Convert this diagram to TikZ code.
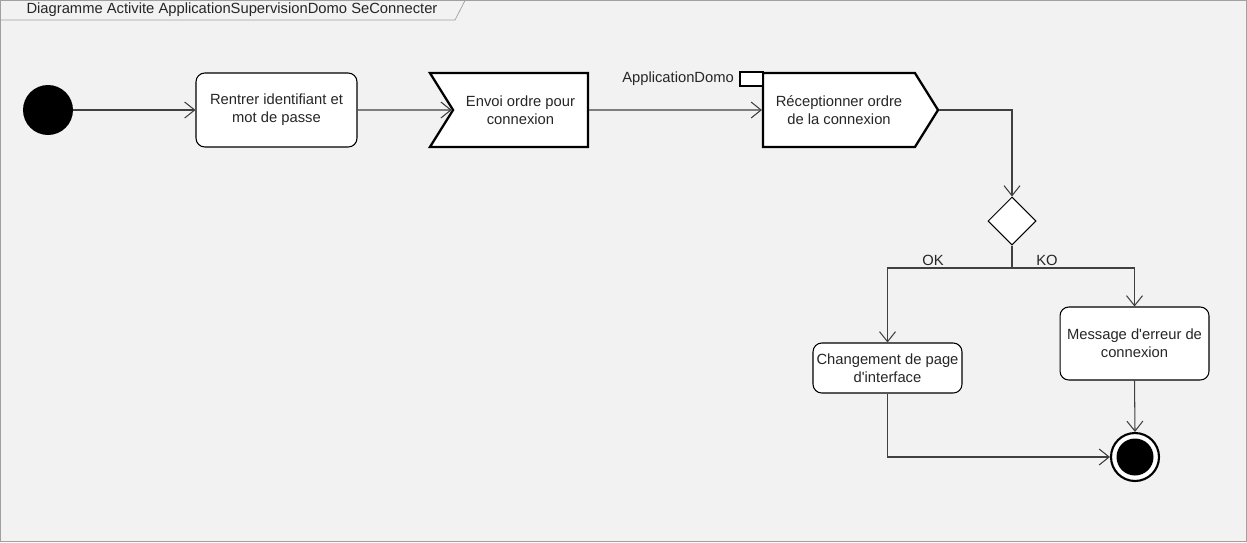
\documentclass[tikz,border=0pt]{standalone}
\usepackage{fontspec}
\setmainfont{Liberation Sans}
\usetikzlibrary{positioning,shapes.geometric,shapes.symbols,arrows.meta}
\definecolor{fondgris}{HTML}{F2F2F2}
\definecolor{cadre}{HTML}{A0A0A0}
\definecolor{trait}{HTML}{404040}

\begin{document}
\begin{tikzpicture}[x=0.02cm,y=-0.02cm,
  every node/.style={font=\fontsize{8.4}{10.2}\selectfont, align=center, inner sep=1pt, text=black!85},
  action/.style={draw=black, rounded corners=5pt, fill=white, line width=0.6pt},
  signalbox/.style={signal, draw=black, fill=white, line width=1.3pt,
    signal pointer angle=116, minimum height=1.48cm},
  flow/.style={draw=trait, line width=0.6pt, -{Straight Barb[length=2mm,width=3.2mm]}},
  plain/.style={draw=trait, line width=0.6pt}]
	%% cadre du diagramme
	\fill[fondgris] (0,0) rectangle (1247,542);
	\useasboundingbox (0,0) rectangle (1247,542);
	\draw[cadre] (0.5,0.5) rectangle (1246.5,541.5);
	\draw[cadre] (0.5,20) -- (455,20) -- (465,0.5);
	\node (titre) at (232,10) {Diagramme Activite ApplicationSupervisionDomo SeConnecter};

	%% noeuds
	\node[circle, fill=black, minimum size=1cm, inner sep=0] (debut) at (48,110) {};
	\node[action, minimum width=3.22cm, minimum height=1.48cm] (saisie) at (276.5,110) {Rentrer identifiant et\\mot de passe};
	\node[signalbox, signal from=west, signal to=nowhere, minimum width=3.16cm] (envoi) at (520.5,110) {Envoi ordre pour\\connexion};
	\node[signalbox, signal to=east, signal from=nowhere, minimum width=3.5cm] (recep) at (839,110) {Réceptionner ordre\\de la connexion};
	\node[draw=black, fill=white, line width=0.6pt, minimum width=0.46cm, minimum height=0.28cm, inner sep=0] (pin) at (751.5,79) {};
	\node[left=2pt of pin] (pinlabel) {ApplicationDomo};
	\node[diamond, draw=black, fill=white, line width=0.6pt, minimum size=0.96cm, inner sep=0] (choix) at (1012,221) {};
	\coordinate (branche) at (1012,268);
	\node (ok) at (933,260) {OK};
	\node (ko) at (1047,260) {KO};
	\node[action, minimum width=2.98cm, minimum height=1cm] (change) at (887.5,368) {Changement de page\\d\textquotesingle interface};
	\node[action, minimum width=2.98cm, minimum height=1.46cm] (erreur) at (1134.5,343.5) {Message d\textquotesingle erreur de\\connexion};
	\node[circle, draw=black, fill=white, line width=1.2pt, minimum size=0.96cm, inner sep=0,
	  path picture={\fill[black] (path picture bounding box.center) circle (0.37cm);}] (fin) at (1135,457) {};

	%% transitions
	\draw[flow] (debut) -- (saisie);
	\draw[flow] (saisie) -- (envoi);
	\draw[flow] (envoi) -- (recep);
	\draw[flow] (recep.east) -| (choix.north);
	\draw[plain] (choix.south) -- (branche);
	\draw[flow] (branche) -| (change.north);
	\draw[flow] (branche) -| (erreur.north);
	\draw[flow] (change.south) |- (fin.west);
	\draw[flow] (erreur.south) -- (fin.north);
\end{tikzpicture}
\end{document}
